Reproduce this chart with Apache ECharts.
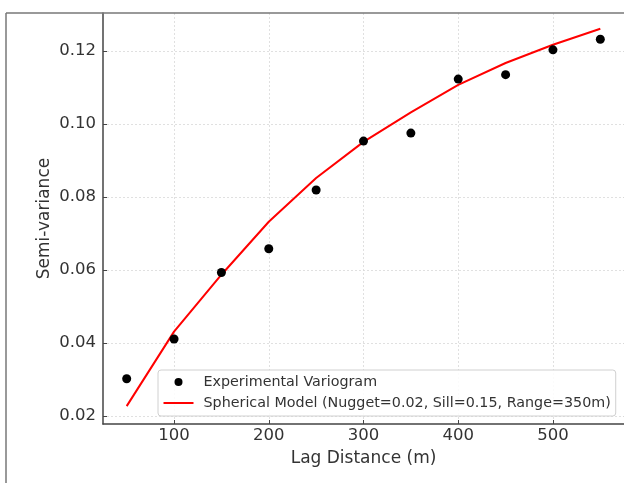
<!DOCTYPE html>
<html>
<head>
<meta charset="utf-8">
<script src="https://cdn.jsdelivr.net/npm/echarts@6/dist/echarts.min.js"></script>
<style>
html,body{margin:0;padding:0;background:#fff;}
#c{width:624px;height:483px;}
</style>
</head>
<body>
<div id="c"></div>
<script>
const lags = [50, 100, 150, 200, 250, 300, 350, 400, 450, 500, 550];
const experimental = [0.0302, 0.0411, 0.0593, 0.0658, 0.0819, 0.0953, 0.0975, 0.1123, 0.1135, 0.1203, 0.1232];
const model = [0.0227, 0.0431, 0.0587, 0.0732, 0.0852, 0.0951, 0.1032, 0.1107, 0.1167, 0.1217, 0.1261];
const xTicks = [100, 200, 300, 400, 500];
const yTicks = [0.02, 0.04, 0.06, 0.08, 0.10, 0.12];
const seriesNames = ['Experimental Variogram', 'Spherical Model (Nugget=0.02, Sill=0.15, Range=350m)'];
const xName = 'Lag Distance (m)';
const yName = 'Semi-variance';

const FONT = 'DejaVu Sans';
const chart = echarts.init(document.getElementById('c'), null, {renderer: 'canvas'});
const gridLine = {show: true, lineStyle: {color: '#d8d8d8', type: [2, 2], width: 0.8}};
chart.setOption({
  animation: false,
  backgroundColor: '#fff',
  grid: {left: 103, top: 13, right: 0, bottom: 59, containLabel: false},
  graphic: [
    {type: 'line', shape: {x1: 6, y1: 13, x2: 624, y2: 13}, style: {stroke: '#777', lineWidth: 1.5}, z: 100},
    {type: 'line', shape: {x1: 6, y1: 13, x2: 6, y2: 483}, style: {stroke: '#777', lineWidth: 1.5}, z: 100}
  ],
  xAxis: {
    type: 'value', min: 25, max: 575,
    name: xName, nameLocation: 'middle', nameGap: 26, nameMoveOverlap: false,
    nameTextStyle: {fontFamily: FONT, fontSize: 17, color: '#333'},
    axisLine: {show: true, onZero: false, lineStyle: {color: '#444', width: 1.5}},
    axisTick: {show: true, inside: true, length: 4, customValues: xTicks, lineStyle: {color: '#444'}},
    axisLabel: {customValues: xTicks, fontFamily: FONT, fontSize: 16.5, color: '#333', margin: 3},
    splitLine: gridLine
  },
  yAxis: {
    type: 'value', min: 0.0178, max: 0.1304,
    name: yName, nameLocation: 'middle', nameGap: 50, nameRotate: 90, nameMoveOverlap: false,
    nameTextStyle: {fontFamily: FONT, fontSize: 17, color: '#333'},
    axisLine: {show: true, onZero: false, lineStyle: {color: '#444', width: 1.5}},
    axisTick: {show: true, inside: true, length: 4, customValues: yTicks, lineStyle: {color: '#444'}},
    axisLabel: {customValues: yTicks, fontFamily: FONT, fontSize: 16.5, color: '#333', margin: 7,
      formatter: v => v.toFixed(2)},
    splitLine: gridLine
  },
  legend: {
    orient: 'vertical', left: 158, top: 370,
    padding: [3.5, 5, 4.5, 4.5],
    itemGap: 4, itemWidth: 30, itemHeight: 8,
    backgroundColor: 'rgba(255,255,255,0.85)', borderColor: '#d0d0d0', borderWidth: 1, borderRadius: 3,
    textStyle: {fontFamily: FONT, fontSize: 14.3, color: '#333', lineHeight: 17, padding: [0, 0, 0, 5]},
    data: [
      {name: seriesNames[0], icon: 'circle'},
      {name: seriesNames[1], itemStyle: {opacity: 0}}
    ]
  },
  series: [
    {
      name: seriesNames[0], type: 'scatter', symbol: 'circle', symbolSize: 9,
      itemStyle: {color: '#000', opacity: 1}, z: 3,
      data: lags.map((x, i) => [x, experimental[i]])
    },
    {
      name: seriesNames[1], type: 'line', symbol: 'none', smooth: false,
      lineStyle: {color: '#ff0000', width: 2}, itemStyle: {color: '#ff0000'}, z: 2,
      data: lags.map((x, i) => [x, model[i]])
    }
  ]
});
</script>
</body>
</html>
